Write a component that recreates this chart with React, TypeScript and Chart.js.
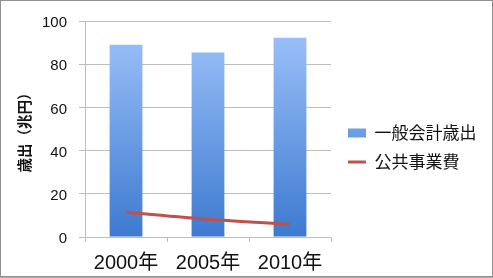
import React, { useEffect, useRef } from 'react';
import { Chart, registerables } from 'chart.js';

Chart.register(...registerables);

const categories = ['2000年', '2005年', '2010年'];
const generalExpenditure = [89.0, 85.4, 92.3];
const publicWorks = [11.5, 8.2, 5.9];
const seriesLabels = ['一般会計歳出', '公共事業費'];
const yAxisTitle = '歳出（兆円）';
const yMin = 0;
const yMax = 100;
const yStep = 20;

const LATIN = "'Liberation Sans', 'Noto Sans CJK JP', sans-serif";
const CJK = "'Noto Sans CJK JP', 'Liberation Sans', sans-serif";
const GRID = '#BDBDBD';

export default function App() {
  const ref = useRef<HTMLCanvasElement>(null);

  useEffect(() => {
    document.body.style.margin = '0';
    const canvas = ref.current;
    if (!canvas) return;

    const framePlugin = {
      id: 'frame',
      afterInit(chart: any) {
        const legend = chart.legend;
        if (legend && !legend.__patched) {
          const orig = legend.fit;
          legend.fit = function () {
            orig.call(this);
            this.width = 162;
          };
          legend.__patched = true;
        }
      },
      afterLayout(chart: any) {
        if (chart.legend) {
          chart.legend.left += 5;
          chart.legend.right += 5;
        }
      },
      beforeDraw(chart: any) {
        const c = chart.ctx;
        c.save();
        c.fillStyle = '#ffffff';
        c.fillRect(0, 0, chart.width, chart.height);
        c.restore();
      },
      afterDraw(chart: any) {
        const c = chart.ctx;
        c.save();
        c.strokeStyle = '#8f8f8f';
        c.lineWidth = 1;
        c.strokeRect(0.5, 0.5, chart.width - 1, chart.height - 2);
        c.strokeStyle = '#a8a8a8';
        c.beginPath();
        c.moveTo(0, chart.height - 0.5);
        c.lineTo(chart.width, chart.height - 0.5);
        c.stroke();
        c.restore();
      },
    };

    const barFill = (context: any) => {
      const chart = context.chart;
      const area = chart.chartArea;
      if (!area) return '#6E9FE8';
      const g = chart.ctx.createLinearGradient(0, area.top, 0, area.bottom);
      g.addColorStop(0, '#A0C4FC');
      g.addColorStop(1, '#3D7ACF');
      return g;
    };

    const chart = new Chart(canvas, {
      type: 'bar',
      data: {
        labels: categories,
        datasets: [
          {
            type: 'bar',
            label: seriesLabels[0],
            data: generalExpenditure,
            backgroundColor: barFill,
            borderWidth: 0,
            categoryPercentage: 0.8,
            barPercentage: 0.5,
            pointStyle: 'rect',
            order: 2,
          } as any,
          {
            type: 'line',
            label: seriesLabels[1],
            data: publicWorks,
            borderColor: '#C0504D',
            backgroundColor: '#C0504D',
            borderWidth: 3,
            pointRadius: 0,
            pointHoverRadius: 0,
            pointBorderWidth: 3,
            pointStyle: 'line',
            tension: 0.3,
            fill: false,
            order: 1,
          } as any,
        ],
      },
      options: {
        animation: false,
        responsive: false,
        events: [],
        layout: { padding: { top: 17, left: 0, right: 0, bottom: 0 } },
        plugins: {
          tooltip: { enabled: false },
          legend: {
            position: 'right',
            align: 'center',
            reverse: true,
            labels: {
              usePointStyle: true,
              pointStyleWidth: 18,
              boxHeight: 9,
              padding: 12,
              color: '#111111',
              font: { family: CJK, size: 17 },
            },
          },
        },
        scales: {
          x: {
            offset: true,
            grid: {
              display: true,
              drawOnChartArea: false,
              drawTicks: true,
              tickLength: 5,
              color: GRID,
              offset: true,
            },
            border: { display: true, color: GRID },
            ticks: {
              color: '#111111',
              padding: 9,
              font: { family: LATIN, size: 20 },
            },
            afterFit(scale: any) {
              scale.height = 41;
            },
          },
          y: {
            min: yMin,
            max: yMax,
            grid: { color: GRID, tickLength: 6 },
            border: { display: true, color: GRID },
            ticks: {
              stepSize: yStep,
              color: '#111111',
              padding: 12,
              labelOffset: 2,
              font: { family: LATIN, size: 15 },
            },
            title: {
              display: true,
              text: yAxisTitle,
              color: '#111111',
              padding: { top: 16, bottom: 0 },
              font: { family: CJK, size: 14.5, weight: 'bold' },
            },
            afterFit(scale: any) {
              scale.width = 85;
            },
          },
        },
      },
      plugins: [framePlugin],
    } as any);

    return () => {
      chart.destroy();
    };
  }, []);

  return (
    <div style={{ width: 493, height: 278 }}>
      <canvas ref={ref} width={493} height={278} style={{ display: 'block' }} />
    </div>
  );
}
